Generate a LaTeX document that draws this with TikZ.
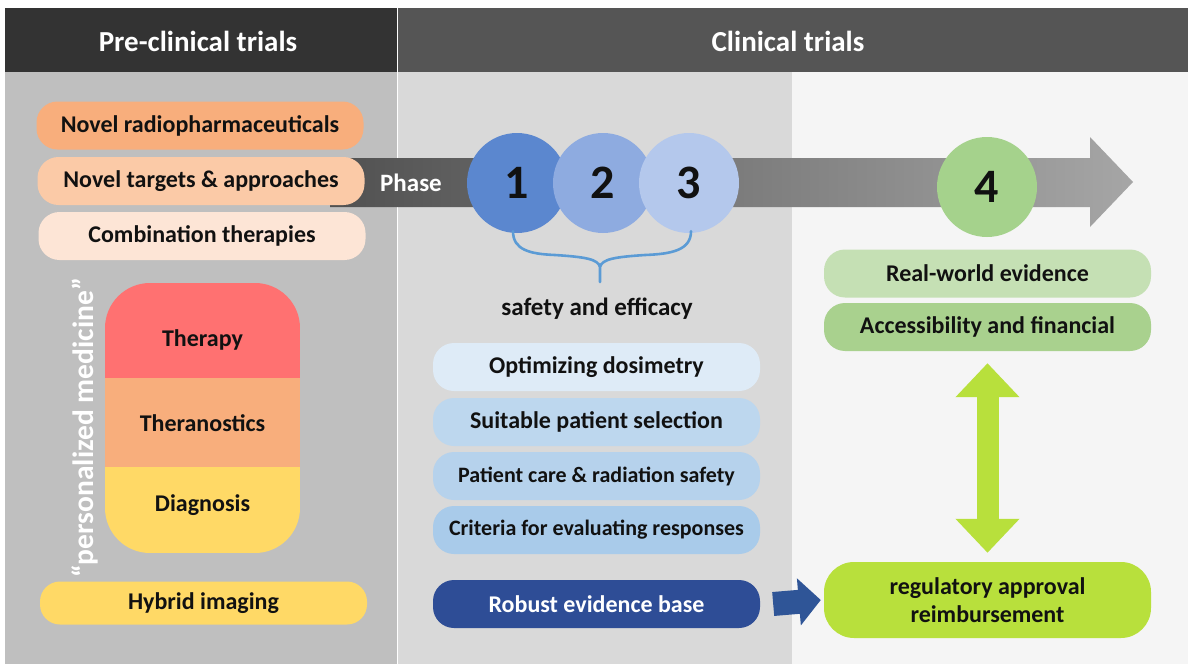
\documentclass[tikz,border=0pt]{standalone}
\usepackage{fontspec}
\setmainfont{Carlito}
\usetikzlibrary{arrows.meta}
\definecolor{hdrL}{HTML}{333333}
\definecolor{hdrR}{HTML}{555555}
\definecolor{panL}{HTML}{BFBFBF}
\definecolor{panM}{HTML}{D9D9D9}
\definecolor{panR}{HTML}{F5F5F5}
\definecolor{or1}{HTML}{F8AE7C}
\definecolor{or2}{HTML}{FBCAA7}
\definecolor{or3}{HTML}{FDE5D6}
\definecolor{red1}{HTML}{FF7171}
\definecolor{yel1}{HTML}{FFD966}
\definecolor{bl1}{HTML}{5B87CF}
\definecolor{bl2}{HTML}{8EABE0}
\definecolor{bl3}{HTML}{B4C8EC}
\definecolor{bx1}{HTML}{DEEBF7}
\definecolor{bx2}{HTML}{BDD7EE}
\definecolor{bx3}{HTML}{B6D2EC}
\definecolor{bx4}{HTML}{A9CBEA}
\definecolor{navy}{HTML}{2E4D96}
\definecolor{arrblue}{HTML}{2F5597}
\definecolor{gr1}{HTML}{C5E0B4}
\definecolor{gr2}{HTML}{A9D18E}
\definecolor{gr4}{HTML}{A5D28C}
\definecolor{lime}{HTML}{B8E03C}
\definecolor{brace}{HTML}{5B9BD5}
\definecolor{ink}{HTML}{111111}
\tikzset{
  pill/.style={rounded corners=21pt, minimum width=327pt, minimum height=48pt, inner sep=0pt, text=ink, align=center},
  txt/.style={font=\fontsize{24}{28}\selectfont\bfseries},
  txts/.style={font=\fontsize{22}{26}\selectfont\bfseries},
  phasecirc/.style={circle, minimum size=100pt, inner sep=0pt, font=\fontsize{48}{52}\selectfont\bfseries, text=ink},
  hdr/.style={text=white, font=\fontsize{29}{34}\selectfont\bfseries},
}
\begin{document}
\begin{tikzpicture}[x=1pt,y=-1pt]
\useasboundingbox (0,0) rectangle (1200,669);
\fill[white] (0,0) rectangle (1200,669);
% panels
\fill[panL] (5,72) rectangle (397,664);
\fill[panM] (398,72) rectangle (792,664);
\fill[panR] (792,72) rectangle (1188,664);
\fill[hdrL] (5,8) rectangle (397,72);
\fill[hdrR] (398,8) rectangle (1188,72);
\node[hdr] (hpre) at (198,41) {Pre-clinical trials};
\node[hdr] (hcli) at (788,41) {Clinical trials};
% phase arrow
\shade[left color=hdrR!95!black, right color=black!35]
  (330,158) -- (1090,158) -- (1090,137) -- (1133,182) -- (1090,227) -- (1090,207) -- (330,207) -- cycle;
\node[text=white, font=\fontsize{25}{30}\selectfont\bfseries] (phase) at (411,183) {Phase};
% left boxes
\node[pill, fill=or1, txt] (radio) at (200,125.5) {Novel radiopharmaceuticals};
\node[pill, fill=or2, txt] (targ) at (201,181) {Novel targets \& approaches};
\node[pill, fill=or3, txt] (comb) at (202,236) {Combination therapies};
% circles
\node[phasecirc, fill=bl1] (c1) at (517,183) {1};
\node[phasecirc, fill=bl2] (c2) at (603,183) {2};
\node[phasecirc, fill=bl3] (c3) at (689,183) {3};
\node[phasecirc, fill=gr4] (c4) at (987,187) {4};
% brace
\coordinate (btip) at (600,282);
\draw[brace, line width=2.6pt, line cap=round, line join=miter]
  ([xshift=-4pt,yshift=2pt]c1.south) .. controls (513,250) and (530,254) .. (555,255) .. controls (585,257) and (598,259) .. (600,267) -- (btip)
  ([xshift=2pt,yshift=2pt]c3.south) .. controls (691,250) and (672,254) .. (645,255) .. controls (615,257) and (602,259) .. (600,267);
\node[text=ink, font=\fontsize{25}{30}\selectfont\bfseries] (safety) at (597,309) {safety and efficacy};
% middle boxes
\node[pill, fill=bx1, txt] (dosi) at (596.5,367) {Optimizing dosimetry};
\node[pill, fill=bx2, txt] (suit) at (596.5,422) {Suitable patient selection};
\node[pill, fill=bx3, txts] (care) at (596.5,476) {Patient care \& radiation safety};
\node[pill, fill=bx4, txts] (crit) at (596.5,530) {Criteria for evaluating responses};
\node[pill, fill=navy, txt, text=white] (robust) at (596.5,604) {Robust evidence base};
% right boxes
\node[pill, fill=gr1, txt] (real) at (987.5,273.5) {Real-world evidence};
\node[pill, fill=gr2, txt] (acc) at (987.5,327) {Accessibility and financial};
\node[pill, fill=lime, txt, minimum height=76pt, rounded corners=30pt] (reg) at (987.5,600) {regulatory approval\\reimbursement};
% arrows
\draw[arrblue, line width=24pt, -{Triangle[width=46pt,length=22pt]}] ([xshift=13pt]robust.east) -- ([xshift=-3pt]reg.west);
\draw[lime, line width=22pt, {Triangle[width=62pt,length=34pt]}-{Triangle[width=62pt,length=34pt]}] ([yshift=-12pt]acc.south) -- ([yshift=9pt]reg.north);
% personalized medicine pill
\begin{scope}
\clip[rounded corners=45pt] (105,283) rectangle (300,553);
\fill[red1] (105,283) rectangle (300,378);
\fill[or1] (105,378) rectangle (300,467);
\fill[yel1] (105,467) rectangle (300,553);
\end{scope}
\node[txt, text=ink] (ther) at (202.5,340) {Therapy};
\node[txt, text=ink] (thera) at (202.5,423) {Theranostics};
\node[txt, text=ink] (diag) at (202.5,505) {Diagnosis};
\node[rotate=90, text=white, font=\fontsize{29.5}{34}\selectfont\bfseries] (pm) at (85,428) {“personalized medicine”};
\node[pill, fill=yel1, txt, rounded corners=20pt, minimum height=43pt] (hyb) at (203.5,603) {Hybrid imaging};
\end{tikzpicture}
\end{document}
